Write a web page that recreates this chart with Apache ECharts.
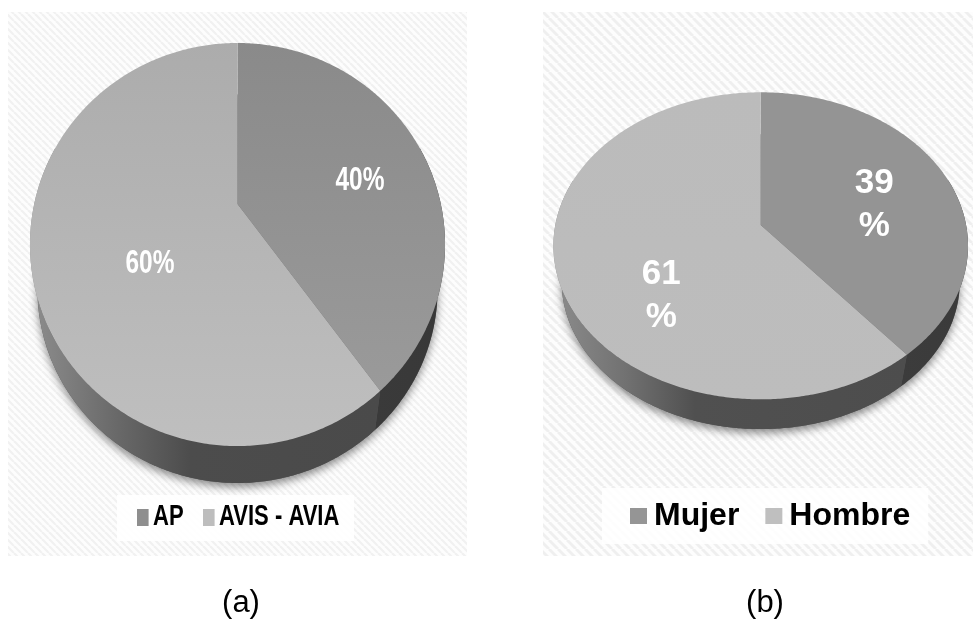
<!DOCTYPE html>
<html>
<head>
<meta charset="utf-8">
<script src="https://cdn.jsdelivr.net/npm/echarts@6/dist/echarts.min.js"></script>
<style>
  html, body { margin: 0; padding: 0; background: #fff; }
  #chart { width: 973px; height: 619px; }
</style>
</head>
<body>
<div id="chart"></div>
<script>
// Values for the two pies
const categoriesA = ['AP', 'AVIS - AVIA'];
const valuesA = [40, 60];
const categoriesB = ['Mujer', 'Hombre'];
const valuesB = [39, 61];
const captions = ['(a)', '(b)'];

// Perspective disc settings: each pie is a unit disc sent through a projective map
const pieA = {
  categories: categoriesA, values: valuesA,
  cx: 237.5, top: { apexY: 204, a: 203.3, b: 193.4 }, base: { apexY: 249.7, a: 196, b: 186.4 }, k: -0.201,
  faces: [['#8a8a8a', '#9a9a9a'], ['#acacac', '#bfbfbf']],
  walls: [[['#3a3a3a', 0], ['#383838', 1]], [['#8e8e8e', 0], ['#6a6a6a', 0.24], ['#4c4c4c', 0.46], ['#4a4a4a', 1]]],
  keys: ['#8e8e8e', '#bdbdbd'],
  labels: { font: 'bold 34px "Liberation Sans"', scaleX: 0.72, line: 34, offset: [[122.5, -23], [-87.5, 60]], split: false }
};
const pieB = {
  categories: categoriesB, values: valuesB,
  cx: 760.7, top: { apexY: 225, a: 205.4, b: 150.7 }, base: { apexY: 261.7, a: 197.2, b: 144.7 }, k: -0.1355,
  faces: [['#949494', '#949494'], ['#bbbbbb', '#bdbdbd']],
  walls: [[['#3c3c3c', 0], ['#3a3a3a', 1]], [['#8c8c8c', 0], ['#727272', 0.2], ['#505050', 0.4], ['#4d4d4d', 1]]],
  keys: ['#959595', '#bfbfbf'],
  labels: { font: 'bold 35px "Liberation Sans"', scaleX: 1, line: 43, offset: [[113.5, -20.5], [-99.5, 70.5]], split: true }
};

// Clockwise angle from 12 o'clock to a projected point on a disc level
function project(pie, level, angle, radius) {
  const u = radius * Math.sin(angle);
  const v = -radius * Math.cos(angle);
  const w = 1 + pie.k * v;
  return [pie.cx + level.a * u / w, level.apexY + level.b * v / w];
}

function rim(pie, level, from, to) {
  const pts = [];
  const steps = Math.max(2, Math.ceil(Math.abs(to - from) / 0.01));
  for (let i = 0; i <= steps; i++) {
    pts.push(project(pie, level, from + (to - from) * i / steps, 1));
  }
  return pts;
}

// Seamless diagonal stripes for the panel backgrounds
function hatchTile(size, stripe) {
  const c = document.createElement('canvas');
  c.width = c.height = size;
  const g = c.getContext('2d');
  g.fillStyle = '#fdfdfd';
  g.fillRect(0, 0, size, size);
  g.strokeStyle = stripe;
  g.lineWidth = size * 0.32;
  for (let i = -size; i <= size * 2; i += size) {
    g.beginPath();
    g.moveTo(i, 0);
    g.lineTo(i + size, size);
    g.stroke();
  }
  return c;
}

// One custom series per slice, so each category keeps its own name and colour
function sliceSeries(pie, idx) {
  const total = pie.values.reduce((s, v) => s + v, 0);
  const before = pie.values.slice(0, idx).reduce((s, v) => s + v, 0);
  return {
    type: 'custom',
    name: pie.categories[idx],
    coordinateSystem: 'none',
    silent: true,
    itemStyle: { color: pie.keys[idx] },
    data: [[pie.values[idx], before, total]],
    renderItem: function (params, api) {
      const value = api.value(0), start = api.value(1), sum = api.value(2);
      const a0 = start / sum * 2 * Math.PI;
      const a1 = (start + value) / sum * 2 * Math.PI;
      const apexTop = [pie.cx, pie.top.apexY];
      const apexBase = [pie.cx, pie.base.apexY];
      const frontFrom = Math.max(a0, Math.PI * 0.4);
      const frontTo = Math.min(a1, Math.PI * 1.6);
      const children = [];
      children.push({
        type: 'polygon', z2: 0,
        shape: { points: [apexBase].concat(rim(pie, pie.base, a0, a1)) },
        style: { fill: '#555', shadowBlur: 9, shadowOffsetY: 4, shadowColor: 'rgba(0,0,0,0.45)' }
      });
      children.push({
        type: 'polygon', z2: 1,
        shape: { points: rim(pie, pie.top, frontFrom, frontTo).concat(rim(pie, pie.base, frontTo, frontFrom)) },
        style: {
          fill: {
            type: 'linear', x: 0, y: 0, x2: 1, y2: 0,
            colorStops: pie.walls[idx].map(s => ({ color: s[0], offset: s[1] }))
          }
        }
      });
      children.push({
        type: 'polygon', z2: 5,
        shape: { points: [apexTop].concat(rim(pie, pie.top, a0, a1)) },
        style: {
          fill: {
            type: 'linear', x: 0, y: 0, x2: 0, y2: 1,
            colorStops: [{ offset: 0, color: pie.faces[idx][0] }, { offset: 1, color: pie.faces[idx][1] }]
          }
        }
      });
      const off = pie.labels.offset[idx];
      const text = pie.labels.split ? value + '\n%' : value + '%';
      children.push({
        type: 'text', z2: 10,
        x: pie.cx + off[0], y: pie.top.apexY + off[1],
        scaleX: pie.labels.scaleX,
        style: {
          text: text, font: pie.labels.font, fill: '#fff',
          align: 'center', verticalAlign: 'middle', lineHeight: pie.labels.line
        }
      });
      return { type: 'group', children: children };
    }
  };
}

// Key for the left pie: its lettering is horizontally condensed, which needs scaled text
function condensedKey(x, y, width, height) {
  const slots = [[20, 36], [86, 102]];
  const elements = [{
    type: 'rect', shape: { x: 0, y: 0, width: width, height: height },
    style: { fill: 'rgba(255,255,255,0.88)' }
  }];
  categoriesA.forEach((name, i) => {
    elements.push({
      type: 'rect', shape: { x: slots[i][0], y: 14, width: 11.6, height: 17 },
      style: { fill: pieA.keys[i] }
    });
    elements.push({
      type: 'text', x: slots[i][1], y: 22, scaleX: 0.76,
      style: {
        text: name, font: 'bold 29px "Liberation Sans"', fill: '#000',
        align: 'left', verticalAlign: 'middle'
      }
    });
  });
  return { type: 'group', x: x, y: y, z: 5, silent: true, children: elements };
}

const chart = echarts.init(document.getElementById('chart'), null, { renderer: 'canvas' });

chart.setOption({
  animation: false,
  backgroundColor: '#ffffff',
  title: [
    { text: captions[0], left: 236, top: 583, textAlign: 'center',
      textStyle: { fontFamily: 'Liberation Sans', fontWeight: 'normal', fontSize: 31, color: '#000' } },
    { text: captions[1], left: 760, top: 583, textAlign: 'center',
      textStyle: { fontFamily: 'Liberation Sans', fontWeight: 'normal', fontSize: 31, color: '#000' } }
  ],
  legend: [
    {
      data: categoriesB, left: 602, top: 488, orient: 'horizontal',
      padding: [12, 18, 12, 28], itemGap: 26, itemWidth: 17, itemHeight: 16, icon: 'rect',
      backgroundColor: 'rgba(255,255,255,0.88)',
      textStyle: { fontFamily: 'Liberation Sans', fontWeight: 'bold', fontSize: 32, color: '#000', padding: [0, 0, 0, 2] }
    }
  ],
  graphic: [
    { type: 'rect', z: -10, silent: true, shape: { x: 8, y: 12, width: 459, height: 544 },
      style: { fill: { image: hatchTile(7, '#f1f1f1'), repeat: 'repeat' } } },
    { type: 'rect', z: -10, silent: true, shape: { x: 543, y: 12, width: 430, height: 544 },
      style: { fill: { image: hatchTile(9, '#efefef'), repeat: 'repeat' } } },
    condensedKey(117, 495, 237, 46)
  ],
  series: [sliceSeries(pieA, 0), sliceSeries(pieA, 1), sliceSeries(pieB, 0), sliceSeries(pieB, 1)]
});
</script>
</body>
</html>
